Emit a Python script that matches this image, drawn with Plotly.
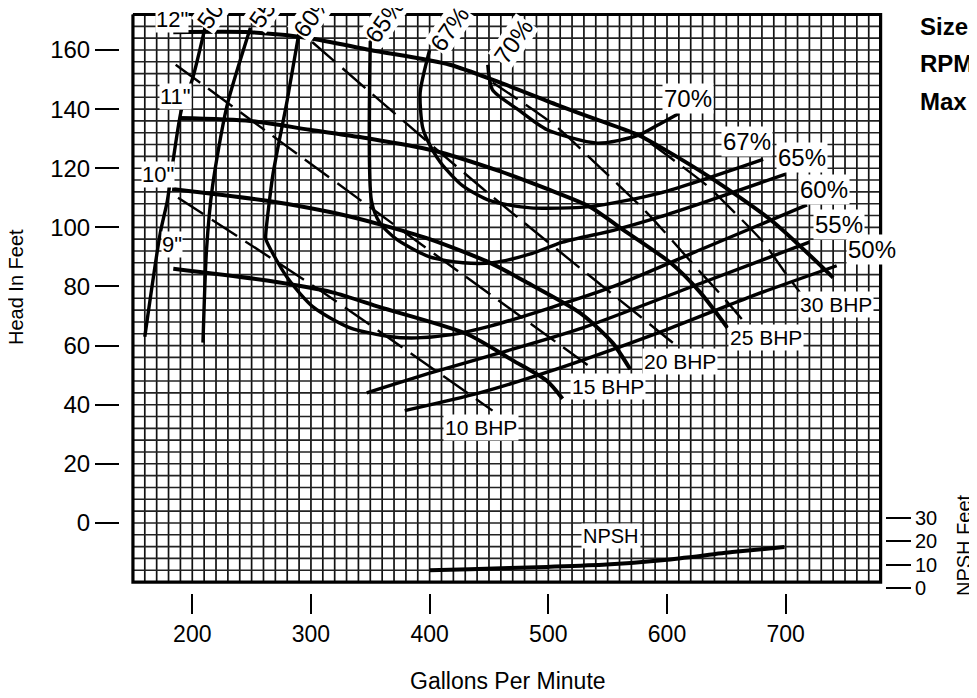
import plotly.graph_objects as go

# ---- head / capacity curves for each impeller diameter (gpm, feet) ----
gpm_12 = [184, 249, 299, 350, 417, 459, 510, 544, 577, 636, 689, 740]
head_12 = [166, 166, 164, 160, 155, 149, 141, 136, 131, 117, 102, 83]
gpm_11 = [189, 249, 299, 350, 403, 459, 499, 535, 560, 603, 628, 651]
head_11 = [137, 136, 133, 130, 126, 119, 113, 107, 100, 88, 78, 66]
gpm_10 = [183, 263, 318, 358, 400, 451, 479, 527, 554, 569]
head_10 = [113, 109, 105, 101, 96, 88, 82, 71, 61, 52]
gpm_9 = [184, 263, 318, 358, 431, 470, 499, 512]
head_9 = [86, 82, 78, 73, 64, 55, 48, 42]

# ---- efficiency curves ----
gpm_e50a = [211, 200, 191, 184, 179, 173, 160]
head_e50a = [168, 150, 140, 123, 109, 98, 63]
gpm_e50b = [379, 442, 499, 597, 670, 743]
head_e50b = [38, 44, 51, 65, 76.5, 87]
gpm_e55a = [249, 229, 217, 212, 209]
head_e55a = [167.5, 140.7, 113.7, 92.4, 61]
gpm_e55b = [347, 403, 459, 529, 628, 720]
head_e55b = [44, 51, 57.5, 66, 81, 95]
gpm_e60 = [290, 280, 268, 262, 262, 280, 302, 333, 367, 389, 417, 451, 501, 555, 628, 718]
head_e60 = [166, 143, 118, 98, 96, 83, 73, 66, 63, 62.6, 63.6, 66.6, 72.7, 80, 92.4, 107.6]
gpm_e65 = [350, 351, 358, 372, 400, 428, 453, 485, 512, 555, 594, 628, 700]
head_e65 = [163, 109, 101.5, 96, 90, 88, 88, 91, 95, 99, 103.5, 108, 118]
gpm_e67 = [400, 392, 394, 398, 409, 428, 451, 485, 535, 594, 681]
head_e67 = [160, 145.5, 134, 129.6, 122, 114, 109, 106.6, 107, 111.6, 123]
gpm_e70 = [449, 453, 474, 499, 541, 575, 594, 610]
head_e70 = [155, 146.5, 140, 133, 128.5, 131, 135, 138.5]

# ---- brake horsepower lines ----
gpm_b10 = [188, 310, 453]
head_b10 = [110, 78, 38]
gpm_b15 = [186, 356, 538]
head_b15 = [155, 105, 52]
gpm_b20 = [301, 448, 611]
head_b20 = [162.7, 112, 59]
gpm_b25 = [453, 507, 539, 583, 621, 647, 663]
head_b25 = [149, 134, 122, 105, 88, 76.5, 69]
gpm_b30 = [586, 634, 657, 681, 699, 712]
head_b30 = [128.5, 114, 105, 95, 85, 78]

# ---- NPSH required ----
gpm_npsh = [400, 434, 499, 549, 598, 655, 699]
npsh_ft = [7.5, 8, 9, 10, 12, 15.4, 17.6]

gpm_ticks = [200, 300, 400, 500, 600, 700]
head_ticks = [0, 20, 40, 60, 80, 100, 120, 140, 160]
npsh_ticks = [0, 10, 20, 30]

imp_labels = ['12"', '11"', '10"', '9"']
eff_labels = ['50%', '55%', '60%', '65%', '67%', '70%']
bhp_labels = ['10 BHP', '15 BHP', '20 BHP', '25 BHP', '30 BHP']

FONT = "Liberation Sans, Arial, sans-serif"
NARROW = "Liberation Sans Narrow, Arial Narrow, Liberation Sans, Arial, sans-serif"

fig = go.Figure()

# graph paper
x0, x1, y0, y1 = 150, 780, -20, 172
vx, vy = [], []
for g in range(x0, x1 + 1, 10):
    vx += [g, g, None]
    vy += [y0, y1, None]
hx, hy = [], []
for h in range(y0, y1 + 1, 4):
    hx += [x0, x1, None]
    hy += [h, h, None]
fig.add_trace(go.Scatter(x=vx, y=vy, mode='lines', line=dict(color='#111', width=1.7),
                         hoverinfo='skip', showlegend=False))
fig.add_trace(go.Scatter(x=hx, y=hy, mode='lines', line=dict(color='#222', width=1.6),
                         hoverinfo='skip', showlegend=False))
fig.add_trace(go.Scatter(x=[x0, x0, x1, x1, x0], y=[y1, y0, y0, y1, y1], mode='lines',
                         line=dict(color='black', width=3.2), hoverinfo='skip', showlegend=False))


def curve(xs, ys, width=3.6, dash=None, yaxis='y'):
    fig.add_trace(go.Scatter(x=xs, y=ys, mode='lines', yaxis=yaxis,
                             line=dict(color='black', width=width, dash=dash,
                                       shape='spline', smoothing=0.7),
                             showlegend=False))


for xs, ys in [(gpm_12, head_12), (gpm_11, head_11), (gpm_10, head_10), (gpm_9, head_9)]:
    curve(xs, ys, 4)
for xs, ys in [(gpm_e50a, head_e50a), (gpm_e50b, head_e50b), (gpm_e55a, head_e55a),
               (gpm_e55b, head_e55b), (gpm_e60, head_e60), (gpm_e65, head_e65),
               (gpm_e67, head_e67), (gpm_e70, head_e70)]:
    curve(xs, ys, 3.4)
for xs, ys in [(gpm_b10, head_b10), (gpm_b15, head_b15), (gpm_b20, head_b20),
               (gpm_b25, head_b25), (gpm_b30, head_b30)]:
    curve(xs, ys, 2.4, dash='30px,10px')
curve(gpm_npsh, npsh_ft, 4, yaxis='y2')

# the page puts the figure 8px in from the corner; positions below are page pixels
OFF = 8
W, H = 977, 698
L, R, T, B = 120 - OFF, 885 - OFF, 0, 593 - OFF


def lab(text, px, py, size=24, angle=0, family=FONT, bg='white', bold=False, xanchor='center', pad=1):
    if bold:
        text = '<b>' + text + '</b>'
    fx, fy = px - OFF, py - OFF
    return dict(text=text, xref='paper', yref='paper', x=(fx - L) / (R - L), y=(B - fy) / (B - T),
                showarrow=False, textangle=angle, xanchor=xanchor, yanchor='middle',
                font=dict(family=family, size=size, color='black'), bgcolor=bg, borderpad=pad)


ann = []
for t, (px, py) in zip(imp_labels, [(172, 19), (175, 96), (158, 174), (172, 244)]):
    ann.append(lab(t, px, py, 22, pad=0))
for t, (px, py) in zip(eff_labels, [(216, 6), (268, 5), (313, 15), (384, 20), (450, 29), (513, 41)]):
    ann.append(lab(t, px, py, 24, angle=-55, pad=0))
for t, (px, py) in zip(eff_labels, [(872, 249), (839, 224), (824, 189), (802, 157), (747, 142), (688, 98)]):
    ann.append(lab(t, px, py, 24))
for t, (px, py) in zip(bhp_labels, [(481, 427), (608, 387), (680, 361), (766, 337), (836, 304)]):
    ann.append(lab(t, px, py, 21, family=NARROW))
ann.append(lab('NPSH', 611, 536, 20, family=NARROW))
ann.append(lab('Gallons Per Minute', 508, 681, 23, bg=None))
ann.append(lab('Head In Feet', 16, 287, 20, angle=-90, bg=None))
ann.append(lab('NPSH Feet', 964, 545, 20, angle=-90, bg=None))
for t, py in zip(['Size', 'RPM', 'Max Sphere'], [27, 64, 101]):
    ann.append(lab(t, 918, py, 24, bg=None, bold=True, xanchor='left'))

axis_font = dict(family=FONT, size=23, color='black')
fig.update_layout(
    width=W, height=H,
    margin=dict(l=L, r=W - R, t=T, b=H - B),
    paper_bgcolor='white', plot_bgcolor='white',
    showlegend=False,
    annotations=ann,
    xaxis=dict(range=[139.1, 783.7], tickvals=gpm_ticks, ticks='outside', ticklen=20,
               tickwidth=1.5, tickcolor='black', showgrid=False, zeroline=False,
               showline=False, tickfont=axis_font),
    yaxis=dict(range=[-23.7, 174.2], tickvals=head_ticks, ticks='outside', ticklen=24,
               tickwidth=1.5, tickcolor='black', showgrid=False, zeroline=False,
               showline=False, tickfont=dict(family=FONT, size=24, color='black')),
    yaxis2=dict(range=[-2.29, 250.6], overlaying='y', side='right', tickvals=npsh_ticks,
                ticks='outside', ticklen=25, tickwidth=1.5, tickcolor='black',
                showgrid=False, zeroline=False, showline=False,
                tickfont=dict(family=FONT, size=20, color='black')),
)

fig.write_html("out.html")
